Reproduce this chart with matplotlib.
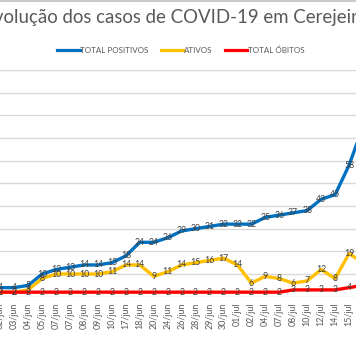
import matplotlib
matplotlib.use("Agg")
import matplotlib.pyplot as plt
from matplotlib.lines import Line2D

categories = ["02/jun", "03/jun", "04/jun", "05/jun", "07/jun", "07/jun", "08/jun", "09/jun",
              "10/jun", "17/jun", "18/jun", "20/jun", "24/jun", "26/jun", "28/jun", "29/jun",
              "30/jun", "01/jul", "02/jul", "04/jul", "07/jul", "08/jul", "10/jul", "12/jul",
              "14/jul", "15/jul", "16/jul"]
total_positivos = [4, 4, 5, 10, 12, 13, 14, 14, 15, 18, 24, 24, 26, 29, 30, 31, 32, 32, 32,
                   35, 36, 37, 38, 43, 45, 58, 75]
ativos = [2, 2, 3, 8, 10, 10, 10, 10, 11, 14, 14, 9, 11, 14, 15, 16, 17, 14, 6, 9, 8, 6, 7,
          12, 8, 19, 15]
total_obitos = [2, 2, 2, 2, 2, 2, 2, 2, 2, 2, 2, 2, 2, 2, 2, 2, 2, 2, 2, 2, 2, 3, 3, 3, 3, 4, 5]

title = "Evolução dos casos de COVID-19 em Cerejeiras"
series_names = ["TOTAL POSITIVOS", "ATIVOS", "TOTAL ÓBITOS"]
colors = ["#0070C0", "#FFC000", "#FF0000"]

plt.rcParams['font.family'] = ['Lato', 'DejaVu Sans']

W, H = 356, 364
fig = plt.figure(figsize=(W / 100, H / 100), dpi=100)
fig.patch.set_facecolor("white")

# plot area (cropped chart): index i at px x0 + step*i ; y 0 at px 296.7, 100 at px 70
step = 13.95
x0 = 0.3
ax = fig.add_axes([0, (H - 296.7) / H, 1, (296.7 - 70) / H])
xs = list(range(len(categories)))
ax.set_xticks(xs)
ax.set_xticklabels(categories, rotation=90, fontsize=6.4, color="#595959")
ax.tick_params(axis="x", length=0, pad=4)
ax.set_yticks(range(0, 101, 10))
ax.yaxis.grid(True, color="#D9D9D9", linewidth=1.0)
ax.set_axisbelow(True)
ax.tick_params(axis="y", left=False, labelleft=False)
for s in ax.spines.values():
    s.set_visible(False)

for vals, c in zip([total_positivos, ativos, total_obitos], colors):
    ax.plot(xs, vals, color=c, linewidth=2.4, solid_capstyle="round", solid_joinstyle="round")

xmin, xmax = -x0 / step, (W - x0) / step
ax.set_xlim(xmin, xmax)
ax.set_ylim(0, 100)

for vals in [total_positivos, ativos, total_obitos]:
    for x, v in zip(xs, vals):
        if x <= xmax:
            ax.text(x, v, str(v), ha="center", va="center", fontsize=6.3, color="#404040",
                    clip_on=False)

# title (cropped at both sides as in the reference)
fig.text(-0.049, 1 - 17 / H, title, ha="left", va="center", fontsize=13.4, color="#595959")

# legend
handles = [Line2D([], [], color=c, linewidth=2.3) for c in colors]
fig.legend(handles, series_names, loc="center", bbox_to_anchor=(181 / W, 1 - 50 / H),
           ncol=3, frameon=False, fontsize=5.8, handlelength=2.8, handletextpad=0.1,
           columnspacing=1.5, labelcolor="#595959")

# top border line
fig.add_artist(Line2D([0, 1], [1 - 0.5 / H, 1 - 0.5 / H], color="#BFBFBF", linewidth=1.2,
                      transform=fig.transFigure))

fig.savefig("out.png", dpi=100)
